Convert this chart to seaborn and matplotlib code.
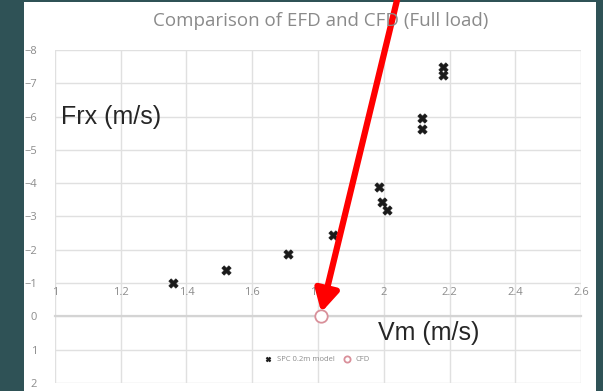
import matplotlib
matplotlib.use("Agg")
import matplotlib.pyplot as plt
import seaborn as sns
import pandas as pd
from matplotlib.patches import Rectangle

# Data
efd_vm = [1.36, 1.52, 1.71, 1.845, 1.985, 1.995, 2.01, 2.115, 2.115, 2.18, 2.18]
efd_frx = [-1.0, -1.38, -1.88, -2.43, -3.9, -3.45, -3.2, -5.95, -5.62, -7.5, -7.25]
cfd_vm = [1.81]
cfd_frx = [0.0]
x_ticks = [1, 1.2, 1.4, 1.6, 1.8, 2, 2.2, 2.4, 2.6]
x_tick_labels = ["1", "1.2", "1.4", "1.6", "1.8", "2", "2.2", "2.4", "2.6"]
y_ticks = [-8, -7, -6, -5, -4, -3, -2, -1, 0, 1, 2]
title = "Comparison of EFD and CFD (Full load)"
efd_label = "SPC 0.2m model"
cfd_label = "CFD"

df_efd = pd.DataFrame({"Vm": efd_vm, "Frx": efd_frx})
df_cfd = pd.DataFrame({"Vm": cfd_vm, "Frx": cfd_frx})

sns.set_theme(style="white")
plt.rcParams["font.family"] = ["Open Sans", "DejaVu Sans"]

W, H = 603, 391
fig = plt.figure(figsize=(W / 100, H / 100), dpi=100)
fig.patch.set_facecolor("#2f5256")
# white slide panel
fig.patches.append(Rectangle((24 / W, 0), (596 - 24) / W, (391 - 2) / H,
                             transform=fig.transFigure, facecolor="white",
                             edgecolor="none", zorder=-10))

ax = fig.add_axes([55 / W, (H - 383) / H, (581 - 55) / W, (383 - 50) / H])
ax.set_zorder(1)
ax.set_facecolor("white")

sns.scatterplot(data=df_efd, x="Vm", y="Frx", ax=ax, marker="X", s=45,
                color="#1a1a1a", edgecolor="#1a1a1a", linewidth=0.5,
                label=efd_label, zorder=3)
sns.scatterplot(data=df_cfd, x="Vm", y="Frx", ax=ax, marker="o", s=80,
                facecolor="white", edgecolor="#d9909a", linewidth=1.3,
                label=cfd_label, zorder=3)

ax.set_xlim(1, 2.6)
ax.set_ylim(2, -8)
ax.set_xticks(x_ticks)
ax.set_yticks(y_ticks)
ax.set_xticklabels(x_tick_labels)
ax.grid(True, color="#e0e0e0", linewidth=1)
ax.set_axisbelow(True)
for s in ["left", "right", "bottom"]:
    ax.spines[s].set_visible(False)
ax.spines["top"].set_position(("data", 0))
ax.spines["top"].set_color("#d4d4d4")
ax.spines["top"].set_linewidth(1.6)
ax.xaxis.tick_top()
ax.tick_params(axis="x", which="both", length=0, pad=13, labelsize=8,
               labelcolor="#8c8c8c")
ax.tick_params(axis="y", length=0, pad=13, labelsize=8, labelcolor="#8c8c8c")
ax.set_xlabel("")
ax.set_ylabel("")

fig.text(321 / W, 1 - 21 / H, title, ha="center", va="center",
         fontsize=13.5, color="#8a8a8a")

ax.text(1.017, -6, "Frx (m/s)", ha="left", va="center", fontsize=18,
        color="#262626", family=["Liberation Sans", "DejaVu Sans"])
ax.text(1.982, 0.5, "Vm (m/s)", ha="left", va="center", fontsize=18,
        color="#262626", family=["Liberation Sans", "DejaVu Sans"])

leg = ax.legend(loc="center", bbox_to_anchor=((315 - 55) / (581 - 55), (383 - 359) / (383 - 50)),
                ncol=2, frameon=False, fontsize=5.5, handletextpad=0.1,
                columnspacing=0.6, markerscale=0.5)
for t in leg.get_texts():
    t.set_color("#8c8c8c")

ax.annotate("", xy=(1.81, -0.12), xycoords="data",
            xytext=(398 / W, 1.01), textcoords="figure fraction",
            arrowprops=dict(arrowstyle="-|>,head_length=1.1,head_width=0.6",
                            color="#ff0000", lw=4.5, shrinkA=0, shrinkB=0),
            annotation_clip=False, zorder=5)

fig.savefig("out.png", dpi=100, facecolor=fig.get_facecolor())
